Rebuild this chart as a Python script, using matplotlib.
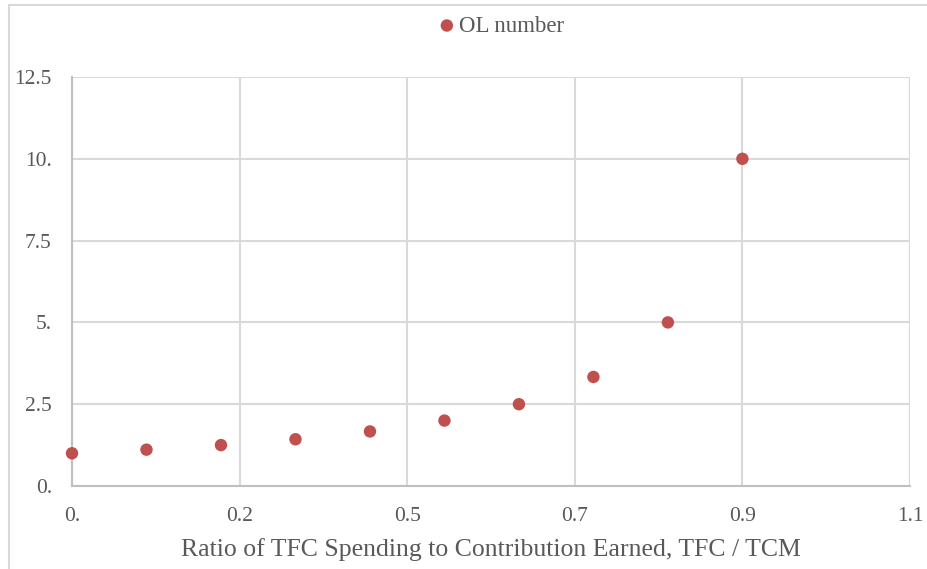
import matplotlib
matplotlib.use("Agg")
import matplotlib.pyplot as plt
from matplotlib.patches import Rectangle

# Ratio of TFC spending to contribution earned, and the resulting OL number
ratio = [0.0, 0.1, 0.2, 0.3, 0.4, 0.5, 0.6, 0.7, 0.8, 0.9]
ol_number = [1.0, 1.111, 1.25, 1.429, 1.667, 2.0, 2.5, 3.333, 5.0, 10.0]

x_ticks = [0.0, 0.225, 0.45, 0.675, 0.9, 1.125]
x_tick_labels = ["0.", "0.2", "0.5", "0.7", "0.9", "1.1"]
y_ticks = [0.0, 2.5, 5.0, 7.5, 10.0, 12.5]
y_tick_labels = ["0.", "2.5", "5.", "7.5", "10.", "12.5"]

series_name = "OL number"
x_title = "Ratio of TFC Spending to Contribution Earned, TFC / TCM"

plt.rcParams["font.family"] = ["Liberation Serif", "DejaVu Serif"]

text_gray = "#595959"
grid_gray = "#d9d9d9"
axis_gray = "#bfbfbf"
point_red = "#c0504d"

fig = plt.figure(figsize=(9.28, 5.69), dpi=100)
fig.patches.append(Rectangle((9 / 928, -0.1), 1.2, 1 - 5 / 569 + 0.1,
                             transform=fig.transFigure, fill=False,
                             edgecolor="#d9d9d9", linewidth=1.5))

ax = fig.add_axes([72 / 928, 1 - 486 / 569, (910 - 72) / 928, (486 - 77) / 569])
ax.scatter(ratio, ol_number, s=80, color=point_red, zorder=3,
           label=series_name, clip_on=False, edgecolors="none")

ax.set_xlim(0, 1.125)
ax.set_ylim(0, 12.5)
ax.set_xticks(x_ticks)
ax.set_xticklabels(x_tick_labels)
ax.set_yticks(y_ticks)
ax.set_yticklabels(y_tick_labels)
ax.grid(True, color=grid_gray, linewidth=1.5)
ax.set_axisbelow(True)

for side in ["top", "right"]:
    ax.spines[side].set_visible(False)
for side in ["left", "bottom"]:
    ax.spines[side].set_color(axis_gray)
    ax.spines[side].set_linewidth(1.5)

ax.tick_params(axis="both", length=0, colors=text_gray, labelsize=15.5)
ax.tick_params(axis="x", pad=15)
ax.tick_params(axis="y", pad=14.5)

ax.set_xlabel(x_title, fontsize=18.5, color=text_gray, labelpad=9)

leg = fig.legend(loc="center left", bbox_to_anchor=(440 / 928, 1 - 26 / 569),
                 frameon=False, fontsize=16.5, handlelength=0.6,
                 handletextpad=0.25, borderpad=0, borderaxespad=0,
                 markerscale=1.0)
for t in leg.get_texts():
    t.set_color(text_gray)

fig.savefig("out.png", dpi=100)
